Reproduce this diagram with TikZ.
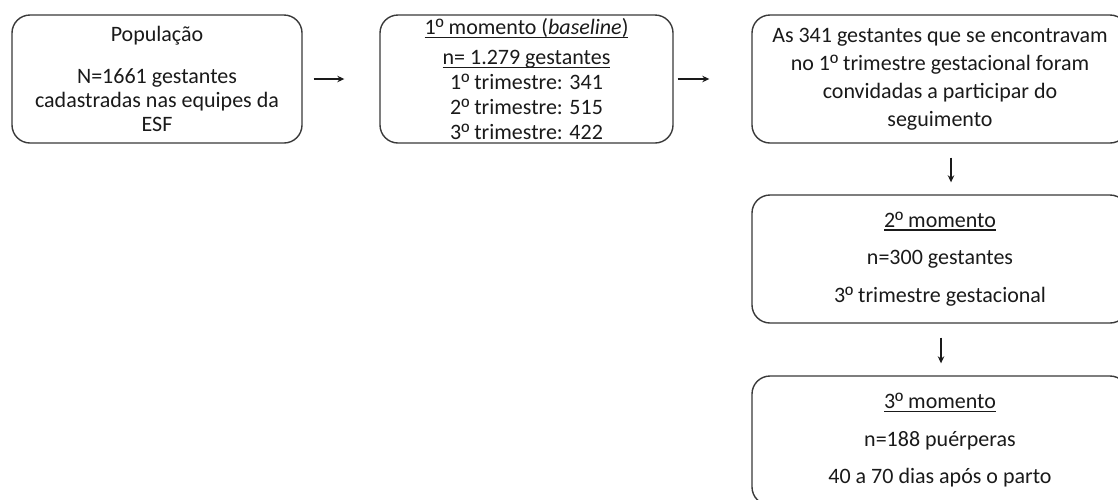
\documentclass[tikz,border=0pt]{standalone}
\usepackage{fontspec}
\setmainfont{Carlito}
\newfontfamily\ordfont{Liberation Sans}
\newcommand{\ordo}{{\ordfont º}}
\newcommand{\ulin}[1]{\begingroup\setbox0\hbox{#1}\rlap{\rule[-3.2pt]{\wd0}{1.1pt}}\box0\endgroup}
\usetikzlibrary{arrows.meta}
\definecolor{boxc}{HTML}{3A3A3A}
\definecolor{txtc}{HTML}{1A1A1A}
\begin{document}
\begin{tikzpicture}[x=1pt,y=-1pt,
  box/.style={draw=boxc, line width=1.4pt, rounded corners=18pt, align=center,
    inner sep=0pt, text=txtc, minimum height=128pt},
  arr/.style={draw=txtc, line width=1.3pt, -{Stealth[length=7pt,width=6.5pt]}}]
\useasboundingbox (0,0) rectangle (1118,499);
\fill[white] (0,0) rectangle (1118,499);
\clip (0,0) rectangle (1118,499);
\node[box, minimum width=290pt, font=\fontsize{22}{24}\selectfont] (pop) at (157,79)
  {População\\[18pt] N=1661 gestantes\\ cadastradas nas equipes da\\ ESF};
\node[box, minimum width=293pt, font=\fontsize{22}{25}\selectfont] (m1) at (526.5,79)
  {\ulin{1\ordo{} momento (\textit{baseline})}\\[5pt] \ulin{n= 1.279 gestantes}\\ 1\ordo{} trimestre: 341\\ 2\ordo{} trimestre: 515\\ 3\ordo{} trimestre: 422};
\node[box, minimum width=376pt, font=\fontsize{22}{28}\selectfont] (conv) at (940,79)
  {As 341 gestantes que se encontravam\\ no 1\ordo{} trimestre gestacional foram\\ convidadas a participar do\\ seguimento};
\node[box, minimum width=376pt, font=\fontsize{22}{37.5}\selectfont] (m2) at (940,259)
  {\ulin{2\ordo{} momento}\\ n=300 gestantes\\ 3\ordo{} trimestre gestacional};
\node[box, minimum width=376pt, minimum height=129pt, font=\fontsize{22}{37.5}\selectfont] (m3) at (940,440.5)
  {\ulin{3\ordo{} momento}\\ n=188 puérperas\\ 40 a 70 dias após o parto};
\draw[arr, shorten <=11pt, shorten >=35pt] (pop.east) -- (m1.west);
\draw[arr, shorten <=4pt, shorten >=42pt] (m1.east) -- (conv.west);
\draw[arr] ([xshift=11pt,yshift=-14pt]conv.south) -- ([xshift=11pt,yshift=12pt]m2.north);
\draw[arr] ([xshift=1pt,yshift=-14pt]m2.south) -- ([xshift=1pt,yshift=12pt]m3.north);
\end{tikzpicture}
\end{document}
